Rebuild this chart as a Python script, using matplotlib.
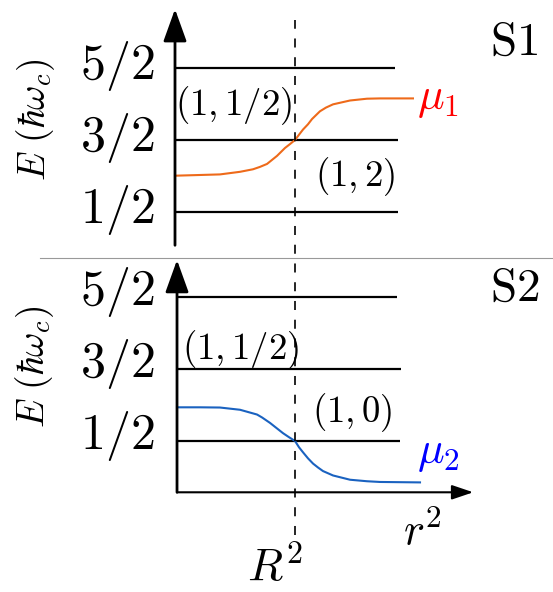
import numpy as np
import matplotlib.pyplot as plt
from matplotlib.lines import Line2D

plt.rcParams['mathtext.fontset'] = 'cm'
plt.rcParams['lines.scale_dashes'] = False

# energy levels (units of hbar*omega_c)
levels = [0.5, 1.5, 2.5]
level_labels = ['$1/2$', '$3/2$', '$5/2$']
top_level_end = [1.86, 1.86, 1.83]
bot_level_end = [1.89, 1.90, 1.86]

# chemical potential profiles vs r^2 (R^2 = 1)
mu1_x = [0.017, 0.208, 0.375, 0.542, 0.65, 0.708, 0.767, 0.85, 0.917, 0.958, 1.0, 1.033,
         1.067, 1.108, 1.142, 1.208, 1.258, 1.317, 1.458, 1.6, 1.708, 1.983]
mu1_E = [1.007, 1.016, 1.024, 1.06, 1.095, 1.128, 1.169, 1.28, 1.39, 1.443, 1.5, 1.572,
         1.645, 1.717, 1.79, 1.897, 1.948, 1.993, 2.046, 2.071, 2.075, 2.075]
mu2_x = [0.0, 0.195, 0.364, 0.534, 0.678, 0.72, 0.788, 0.898, 0.949, 1.0, 1.034, 1.068,
         1.110, 1.153, 1.195, 1.237, 1.322, 1.466, 1.61, 1.72, 2.059]
mu2_E = [0.967, 0.967, 0.964, 0.933, 0.867, 0.827, 0.751, 0.609, 0.553, 0.5, 0.413, 0.343,
         0.26, 0.187, 0.133, 0.084, 0.023, -0.036, -0.057, -0.067, -0.073]

fig = plt.figure(figsize=(5.53, 5.92), dpi=100)

ax1 = fig.add_axes([0, 1 - 258 / 592, 1, 258 / 592])
ax1.set_xlim(-175 / 120, 378 / 120)
ax1.set_ylim(-0.132, 3.436)
ax2 = fig.add_axes([0, 0, 1, 334 / 592])
ax2.set_xlim(-1.5, 3.186)
ax2.set_ylim(-1.591, 3.035)
for ax in (ax1, ax2):
    ax.axis('off')
    ax.patch.set_alpha(0)

tick_fs = 36
pair_fs = 26.5
ylab_fs = 27

# top panel
for E, xe, lab in zip(levels, top_level_end, level_labels):
    ax1.plot([0, xe], [E, E], color='k', lw=1.6, solid_capstyle='butt')
    ax1.text(-0.17, E + 0.03, lab, fontsize=tick_fs, ha='right', va='center')
ax1.annotate('', xy=(0, 3.31), xytext=(0, 0.044),
             arrowprops=dict(arrowstyle='-|>,head_length=1.0,head_width=0.36',
                             mutation_scale=20, lw=2.0, color='k',
                             shrinkA=0, shrinkB=0))
ax1.plot(mu1_x, mu1_E, color='#ee6a1a', lw=1.5)
ax1.text(-1.16, 1.777, r'$E\ (\hbar\omega_c)$', fontsize=ylab_fs, rotation=90,
         ha='center', va='center')
ax1.text(0.0, 1.97, '$(1,1/2)$', fontsize=pair_fs, ha='left', va='center')
ax1.text(1.167, 0.99, '$(1,2)$', fontsize=pair_fs, ha='left', va='center')
ax1.text(2.625, 2.855, r'$\mathrm{S1}$', fontsize=34, ha='left', va='center')
ax1.text(2.017, 2.08, r'$\mu_1$', fontsize=32, color='#ff0000', ha='left', va='center')

# bottom panel
for E, xe, lab in zip(levels, bot_level_end, level_labels):
    ax2.plot([0, xe], [E, E], color='k', lw=1.6, solid_capstyle='butt')
    ax2.text(-0.19, E + 0.07, lab, fontsize=tick_fs, ha='right', va='center')
ax2.annotate('', xy=(0, 3.007), xytext=(0, -0.21),
             arrowprops=dict(arrowstyle='-|>,head_length=1.0,head_width=0.36',
                             mutation_scale=20, lw=2.0, color='k',
                             shrinkA=0, shrinkB=0))
ax2.annotate('', xy=(2.51, -0.21), xytext=(0, -0.21),
             arrowprops=dict(arrowstyle='-|>,head_length=0.65,head_width=0.22',
                             mutation_scale=20, lw=1.5, color='k',
                             shrinkA=0, shrinkB=0))
ax2.plot(mu2_x, mu2_E, color='#1a62c0', lw=1.5)
ax2.text(-1.21, 1.525, r'$E\ (\hbar\omega_c)$', fontsize=ylab_fs, rotation=90,
         ha='center', va='center')
ax2.text(0.042, 1.76, '$(1,1/2)$', fontsize=pair_fs, ha='left', va='center')
ax2.text(1.144, 0.90, '$(1,0)$', fontsize=pair_fs, ha='left', va='center')
ax2.text(2.653, 2.62, r'$\mathrm{S2}$', fontsize=34, ha='left', va='center')
ax2.text(2.034, 0.348, r'$\mu_2$', fontsize=32, color='#0000ff', ha='left', va='center')
ax2.text(1.915, -0.76, '$r^2$', fontsize=32, ha='left', va='center')
ax2.text(0.59, -1.27, '$R^2$', fontsize=33, ha='left', va='center')

# R^2 marker across both panels
ax2.plot([1, 1], [-0.80, 6.33], color='k', lw=1.2, dashes=(6.5, 7), clip_on=False)

# separator
fig.add_artist(Line2D([40 / 553, 1], [1 - 257.5 / 592] * 2, transform=fig.transFigure,
                      color='#999999', lw=0.8))

fig.savefig('out.png', dpi=100)
